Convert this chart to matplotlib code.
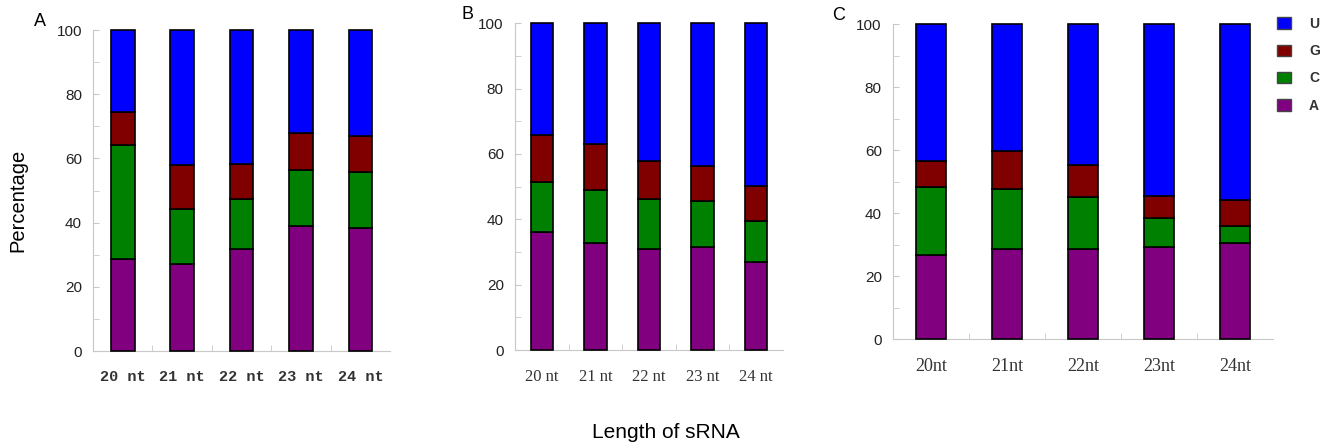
import numpy as np
import matplotlib
matplotlib.use("Agg")
import matplotlib.pyplot as plt
from matplotlib.patches import Patch
from matplotlib.ticker import MultipleLocator

# data (cumulative tops, converted to shares below)
bases = ["A", "C", "G", "U"]
colors = {"A": "#800080", "C": "#008000", "G": "#800000", "U": "#0000ff"}

labels_A = ["20 nt", "21 nt", "22 nt", "23 nt", "24 nt"]
A_a = [28.7, 27.0, 31.8, 38.9, 38.2]
A_c = [35.5, 17.1, 15.5, 17.4, 17.7]
A_g = [10.4, 13.9, 11.1, 11.6, 11.2]
A_u = [25.4, 42.0, 41.6, 32.1, 32.9]

labels_B = ["20 nt", "21 nt", "22 nt", "23 nt", "24 nt"]
B_a = [36.2, 32.7, 31.0, 31.4, 26.9]
B_c = [15.1, 16.3, 15.1, 14.3, 12.6]
B_g = [14.5, 14.1, 11.7, 10.5, 10.6]
B_u = [34.2, 36.9, 42.2, 43.8, 49.9]

labels_C = ["20nt", "21nt", "22nt", "23nt", "24nt"]
C_a = [26.6, 28.5, 28.6, 29.3, 30.4]
C_c = [21.6, 19.1, 16.6, 9.0, 5.5]
C_g = [8.3, 12.3, 10.2, 7.1, 8.2]
C_u = [43.5, 40.1, 44.6, 54.6, 55.9]

panels = [
    ("A", labels_A, [A_a, A_c, A_g, A_u], [0.0699, 0.213, 0.2232, 0.7197],
     dict(family="Liberation Mono", size=11, weight="bold"), 0.40),
    ("B", labels_B, [B_a, B_c, B_g, B_u], [0.3869, 0.2152, 0.2014, 0.7326],
     dict(family="Liberation Serif", size=12), 0.42),
    ("C", labels_C, [C_a, C_c, C_g, C_u], [0.6709, 0.2399, 0.2855, 0.7056],
     dict(family="Liberation Serif", size=13), 0.40),
]

fig = plt.figure(figsize=(13.31, 4.46), dpi=100)

for letter, xl, vals, pos, xfont, bw in panels:
    ax = fig.add_axes(pos)
    x = np.arange(len(xl))
    bottom = np.zeros(len(xl))
    for b, v in zip(bases, vals):
        ax.bar(x, v, bw, bottom=bottom, color=colors[b], edgecolor="black",
               linewidth=1.2, clip_on=False, zorder=3)
        bottom += np.array(v)
    ax.set_xlim(-0.5, len(xl) - 0.5)
    ax.set_ylim(0, 100)
    ax.set_xticks(x)
    ax.set_xticklabels(xl, fontdict=xfont, color="#333333")
    ax.set_xticks(np.arange(0.5, len(xl) - 1, 1), minor=True)
    ax.yaxis.set_major_locator(MultipleLocator(20))
    ax.yaxis.set_minor_locator(MultipleLocator(10))
    for s in ["top", "right"]:
        ax.spines[s].set_visible(False)
    for s in ["left", "bottom"]:
        ax.spines[s].set_color("#c8c8c8")
    ax.tick_params(axis="y", which="both", direction="in", color="#c8c8c8",
                   length=4, labelsize=11, pad=8)
    ax.tick_params(axis="x", which="major", length=0, pad=14)
    ax.tick_params(axis="x", which="minor", direction="in", color="#c8c8c8", length=4)
    for t in ax.get_yticklabels():
        t.set_family("Liberation Sans")
        t.set_color("#222222")
    ax.text(-0.20 if letter != "C" else -0.16, 1.0, letter, transform=ax.transAxes,
            fontsize=13, family="Liberation Sans", ha="left", va="bottom")

fig.text(0.0135, 0.55, "Percentage", rotation=90, fontsize=14.5,
         family="Liberation Sans", ha="center", va="center")
fig.text(0.50, 0.03, "Length of sRNA", fontsize=15, family="Liberation Sans",
         ha="center", va="center")

handles = [Patch(facecolor=colors[b], edgecolor="#444444") for b in ["U", "G", "C", "A"]]
fig.legend(handles, ["U", "G", "C", "A"], loc="upper left",
           bbox_to_anchor=(0.950, 0.99), frameon=False, handlelength=1.0,
           handleheight=0.9, handletextpad=1.3, labelspacing=0.95,
           prop=dict(family="Liberation Sans", size=10, weight="bold"),
           labelcolor="#333333")

fig.savefig("out.png", dpi=100)
